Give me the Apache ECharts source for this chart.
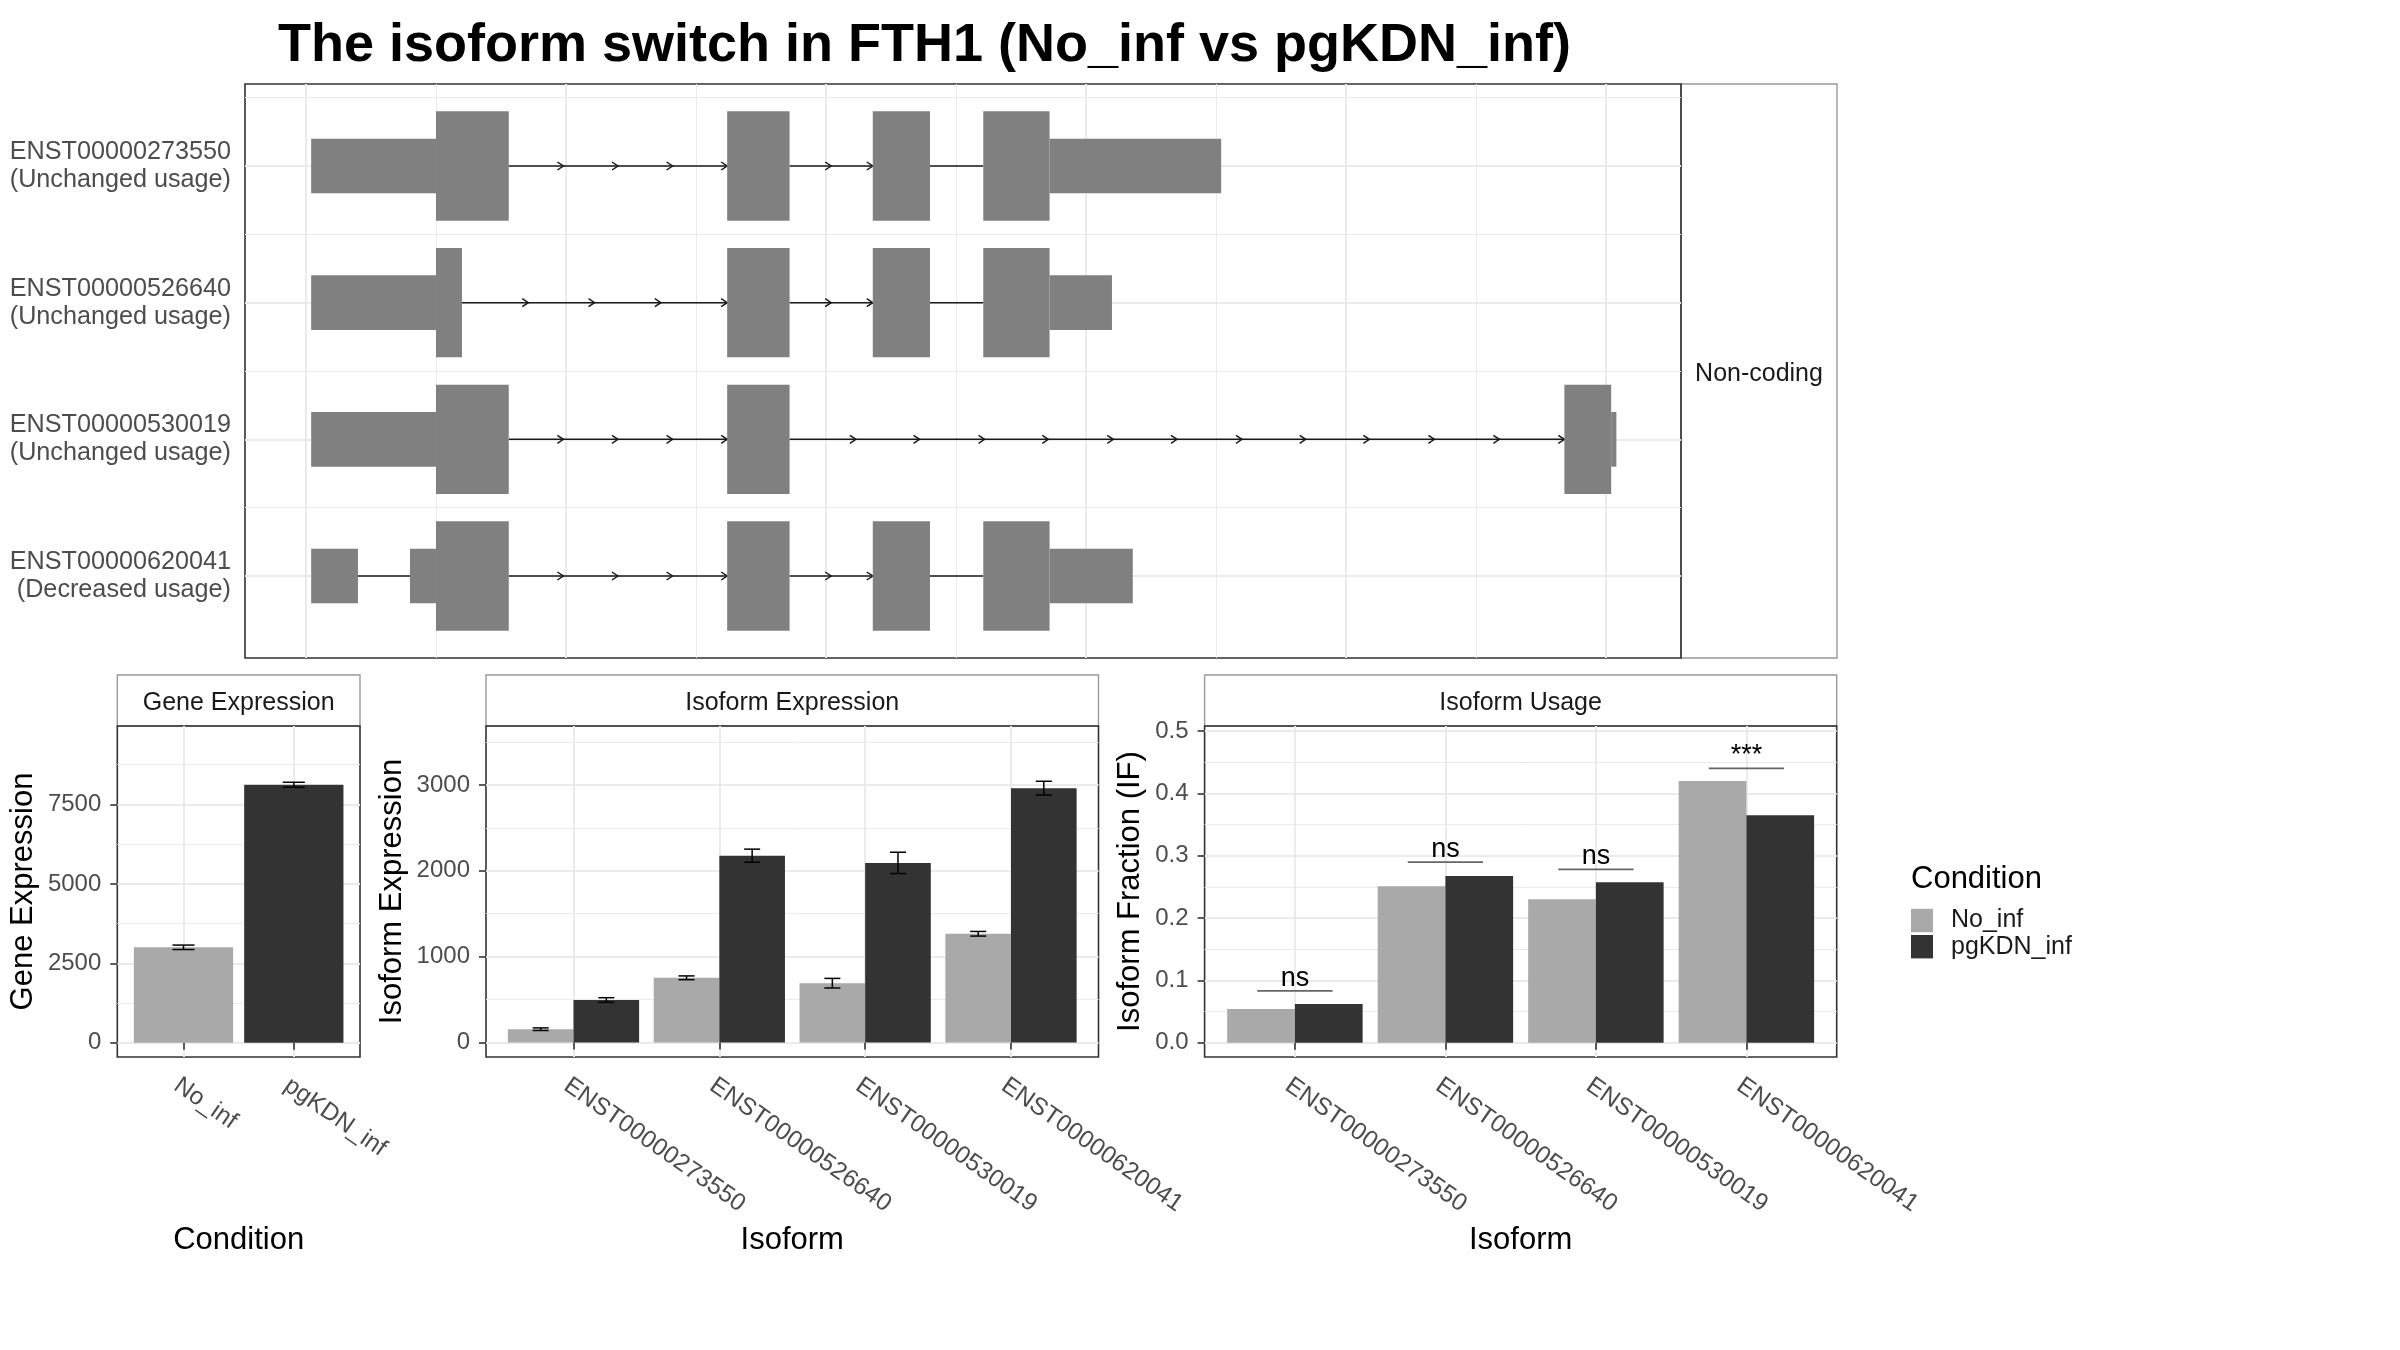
<!DOCTYPE html>
<html><head><meta charset="utf-8">
<script src="https://cdn.jsdelivr.net/npm/echarts@6/dist/echarts.min.js"></script>
<style>html,body{margin:0;padding:0;background:#fff}#c{width:2400px;height:1350px}</style>
</head><body><div id="c"></div>
<script>
// ---------------- DATA ----------------
const chartTitle = 'The isoform switch in FTH1 (No_inf vs pgKDN_inf)';
const transcriptIds = ['ENST00000273550', 'ENST00000526640', 'ENST00000530019', 'ENST00000620041'];
const transcriptUsage = ['Unchanged usage', 'Unchanged usage', 'Unchanged usage', 'Decreased usage'];
const codingStrip = 'Non-coding';
// exon pieces: [row, start, end, thick(1 = CDS) / thin(0 = UTR)]
const exons = [
  [1, 4, 100, 0], [1, 100, 156, 1], [1, 324, 372, 1], [1, 436, 480, 1], [1, 521, 572, 1], [1, 572, 704, 0],
  [2, 4, 100, 0], [2, 100, 120, 1], [2, 324, 372, 1], [2, 436, 480, 1], [2, 521, 572, 1], [2, 572, 620, 0],
  [3, 4, 100, 0], [3, 100, 156, 1], [3, 324, 372, 1], [3, 968, 1004, 1], [3, 1004, 1008, 0],
  [4, 4, 40, 0], [4, 80, 100, 0], [4, 100, 156, 1], [4, 324, 372, 1], [4, 436, 480, 1], [4, 521, 572, 1], [4, 572, 636, 0]
];
// introns: [row, start, end]
const introns = [
  [1, 156, 324], [1, 372, 436], [1, 480, 521],
  [2, 120, 324], [2, 372, 436], [2, 480, 521],
  [3, 156, 324], [3, 372, 968],
  [4, 40, 80], [4, 156, 324], [4, 372, 436], [4, 480, 521]
];
// intron direction arrows: [row, tip position]
const arrowTips = [
  [1, 198], [1, 240], [1, 282], [1, 324], [1, 404], [1, 436],
  [2, 171], [2, 222], [2, 273], [2, 324], [2, 404], [2, 436],
  [3, 198], [3, 240], [3, 282], [3, 324], [3, 423], [3, 472], [3, 522], [3, 571], [3, 621], [3, 670],
  [3, 720], [3, 769], [3, 818], [3, 868], [3, 918], [3, 968],
  [4, 198], [4, 240], [4, 282], [4, 324], [4, 404], [4, 436]
];
const structMajor = [0, 200, 400, 600, 800, 1000];
const structMinor = [100, 300, 500, 700, 900];
const rowTicks = [1, 2, 3, 4];
const rowMinor = [0.5, 1.5, 2.5, 3.5];

const conditions = ['No_inf', 'pgKDN_inf'];
const geneMean = [3005, 8120];
const geneSE = [70, 78];
const geneTicks = [0, 2500, 5000, 7500];
const geneMinor = [1250, 3750, 6250, 8750];

const isoforms = ['ENST00000273550', 'ENST00000526640', 'ENST00000530019', 'ENST00000620041'];
const isoExpNo = [154, 753, 690, 1266];
const isoExpNoSE = [15, 22, 56, 27];
const isoExpKd = [494, 2176, 2092, 2963];
const isoExpKdSE = [27, 76, 124, 80];
const isoExpTicks = [0, 1000, 2000, 3000];
const isoExpMinor = [500, 1500, 2500, 3500];

const ifNo = [0.054, 0.251, 0.230, 0.420];
const ifKd = [0.062, 0.2675, 0.2575, 0.365];
const sigY = [0.0833, 0.2896, 0.278, 0.44];
const sigLabel = ['ns', 'ns', 'ns', '***'];
const usageTicks = [0, 0.1, 0.2, 0.3, 0.4, 0.5];
const usageMinor = [0.05, 0.15, 0.25, 0.35, 0.45];

// ---------------- STYLE ----------------
const FONT = '"Liberation Sans", Arial, Helvetica, sans-serif';
const COL_NO = '#A9A9A9', COL_KD = '#333333', COL_EXON = '#808080';
const GRIDC = '#EBEBEB', TICKC = '#333333', LABC = '#4D4D4D';

const G = {
  top:   {left: 245, top: 84, width: 1436, height: 574},
  gene:  {left: 117.3, top: 726, width: 242.7, height: 331},
  iso:   {left: 486, top: 726, width: 612.5, height: 331},
  usage: {left: 1204.6, top: 726, width: 632.1, height: 331}
};
const grids = [G.top, G.gene, G.iso, G.usage].map(g => Object.assign({
  show: true, borderColor: '#333333', borderWidth: 1.6, backgroundColor: 'transparent',
  containLabel: false, outerBoundsMode: 'none'
}, g));

function hiddenAxis(gridIndex, min, max, vals, width, extra) {
  return Object.assign({
    type: 'value', gridIndex, min, max, show: true,
    axisLine: {show: false}, axisTick: {show: false, customValues: vals},
    axisLabel: {show: false, customValues: vals},
    splitLine: {show: true, lineStyle: {color: GRIDC, width}}
  }, extra || {});
}
function catXAxis(gridIndex, max, names, title) {
  const vals = names.map((_, i) => i + 1);
  return {
    type: 'value', gridIndex, min: 0.4, max,
    axisLine: {show: false},
    axisTick: {show: true, length: 7, customValues: vals, lineStyle: {color: TICKC, width: 1.6}},
    axisLabel: {show: true, customValues: vals, formatter: v => names[Math.round(v) - 1],
      rotate: -35, align: 'left', verticalAlign: 'top', margin: 16,
      fontSize: 24.5, color: LABC, fontFamily: FONT},
    splitLine: {show: true, lineStyle: {color: GRIDC, width: 2}},
    name: title, nameLocation: 'middle', nameGap: 168, nameMoveOverlap: false,
    nameTextStyle: {fontSize: 31, color: '#000', fontFamily: FONT, verticalAlign: 'top'}
  };
}
function valYAxis(gridIndex, min, max, ticks, fmt, title, gap) {
  return {
    type: 'value', gridIndex, min, max,
    axisLine: {show: false},
    axisTick: {show: true, length: 7, customValues: ticks, lineStyle: {color: TICKC, width: 1.6}},
    axisLabel: {show: true, customValues: ticks, formatter: fmt, margin: 16,
      fontSize: 24, color: LABC, fontFamily: FONT},
    splitLine: {show: true, lineStyle: {color: GRIDC, width: 2}},
    name: title, nameLocation: 'middle', nameGap: gap, nameMoveOverlap: false,
    nameTextStyle: {fontSize: 31, color: '#000', fontFamily: FONT}
  };
}

const xAxes = [
  hiddenAxis(0, -46.9, 1057.7, structMajor, 2),
  hiddenAxis(0, -46.9, 1057.7, structMinor, 1),
  catXAxis(1, 2.6, conditions, 'Condition'),
  catXAxis(2, 4.6, isoforms, 'Isoform'),
  catXAxis(3, 4.6, isoforms, 'Isoform')
];
const yAxes = [
  {
    type: 'value', gridIndex: 0, min: 0.4, max: 4.6, inverse: true,
    axisLine: {show: false}, axisTick: {show: false, customValues: rowTicks},
    axisLabel: {show: true, customValues: rowTicks, margin: 14, align: 'right',
      formatter: v => transcriptIds[Math.round(v) - 1] + '\n(' + transcriptUsage[Math.round(v) - 1] + ')',
      fontSize: 25.2, lineHeight: 28, color: LABC, fontFamily: FONT, padding: [9, 0, 0, 0]},
    splitLine: {show: true, lineStyle: {color: GRIDC, width: 2}}
  },
  hiddenAxis(0, 0.4, 4.6, rowMinor, 1, {inverse: true}),
  valYAxis(1, -447, 9969, geneTicks, v => String(Math.round(v)), 'Gene Expression', 78),
  hiddenAxis(1, -447, 9969, geneMinor, 1),
  valYAxis(2, -170, 3687, isoExpTicks, v => String(Math.round(v)), 'Isoform Expression', 78),
  hiddenAxis(2, -170, 3687, isoExpMinor, 1),
  valYAxis(3, -0.0228, 0.508, usageTicks, v => v.toFixed(1), 'Isoform Fraction (IF)', 59),
  hiddenAxis(3, -0.0228, 0.508, usageMinor, 1)
];

// ---------------- RENDERERS ----------------
function exonItem(params, api) {
  const row = api.value(0), s = api.value(1), e = api.value(2), thick = api.value(3);
  const h = thick ? 0.4 : 0.2;
  const a = api.coord([s, row - h]), b = api.coord([e, row + h]);
  return {type: 'rect', shape: {x: Math.min(a[0], b[0]), y: Math.min(a[1], b[1]),
    width: Math.abs(b[0] - a[0]), height: Math.abs(b[1] - a[1])}, style: {fill: COL_EXON}};
}
function intronItem(params, api) {
  const row = api.value(0);
  const a = api.coord([api.value(1), row]), b = api.coord([api.value(2), row]);
  return {type: 'line', shape: {x1: a[0], y1: a[1], x2: b[0], y2: b[1]},
    style: {stroke: '#1a1a1a', lineWidth: 1.5}};
}
function arrowItem(params, api) {
  const p = api.coord([api.value(1), api.value(0)]);
  return {type: 'polyline', shape: {points: [[p[0] - 6, p[1] - 4], [p[0], p[1]], [p[0] - 6, p[1] + 4]]},
    style: {stroke: '#1a1a1a', lineWidth: 1.5, fill: null}};
}
function barItem(offset, width) {
  return function (params, api) {
    const x = api.value(0), y = api.value(1);
    const a = api.coord([x + offset, y]), b = api.coord([x + offset + width, 0]);
    return {type: 'rect', shape: {x: a[0], y: a[1], width: b[0] - a[0], height: b[1] - a[1]},
      style: {fill: api.visual('color')}};
  };
}
function errItem(offset, cap) {
  return function (params, api) {
    const x = api.value(0) + offset, m = api.value(1), s = api.value(2);
    const t = api.coord([x, m + s]), b = api.coord([x, m - s]);
    const l = api.coord([x - cap, m])[0], r = api.coord([x + cap, m])[0];
    const st = {stroke: '#000', lineWidth: 1.5};
    return {type: 'group', children: [
      {type: 'line', shape: {x1: t[0], y1: t[1], x2: b[0], y2: b[1]}, style: st},
      {type: 'line', shape: {x1: l, y1: t[1], x2: r, y2: t[1]}, style: st},
      {type: 'line', shape: {x1: l, y1: b[1], x2: r, y2: b[1]}, style: st}
    ]};
  };
}
function sigItem(params, api) {
  const x = api.value(0), y = api.value(1);
  const a = api.coord([x - 0.25, y]), b = api.coord([x + 0.25, y]);
  return {type: 'group', children: [
    {type: 'line', shape: {x1: a[0], y1: a[1], x2: b[0], y2: b[1]}, style: {stroke: '#666666', lineWidth: 1.8}},
    {type: 'text', x: (a[0] + b[0]) / 2, y: a[1] + 1,
      style: {text: sigLabel[params.dataIndex], fontSize: 27, fontFamily: FONT, fill: '#000',
        align: 'center', verticalAlign: 'bottom'}}
  ]};
}

const series = [
  {type: 'custom', name: 'introns', xAxisIndex: 0, yAxisIndex: 0, renderItem: intronItem,
    data: introns, encode: {x: [1, 2], y: 0}, z: 3, silent: true},
  {type: 'custom', name: 'arrows', xAxisIndex: 0, yAxisIndex: 0, renderItem: arrowItem,
    data: arrowTips, encode: {x: 1, y: 0}, z: 3, silent: true},
  {type: 'custom', name: 'exons', xAxisIndex: 0, yAxisIndex: 0, renderItem: exonItem,
    data: exons, encode: {x: [1, 2], y: 0}, z: 4, silent: true},

  {type: 'custom', name: conditions[0], xAxisIndex: 2, yAxisIndex: 2, renderItem: barItem(-0.45, 0.9),
    itemStyle: {color: COL_NO}, data: [[1, geneMean[0]]], encode: {x: 0, y: 1}, z: 3, silent: true},
  {type: 'custom', name: conditions[1], xAxisIndex: 2, yAxisIndex: 2, renderItem: barItem(-0.45, 0.9),
    itemStyle: {color: COL_KD}, data: [[2, geneMean[1]]], encode: {x: 0, y: 1}, z: 3, silent: true},
  {type: 'custom', name: 'geneErr', xAxisIndex: 2, yAxisIndex: 2, renderItem: errItem(0, 0.1),
    data: conditions.map((_, i) => [i + 1, geneMean[i], geneSE[i]]), encode: {x: 0, y: 1}, z: 5, silent: true},

  {type: 'custom', name: conditions[0], xAxisIndex: 3, yAxisIndex: 4, renderItem: barItem(-0.45, 0.45),
    itemStyle: {color: COL_NO}, data: isoExpNo.map((v, i) => [i + 1, v]), encode: {x: 0, y: 1}, z: 3, silent: true},
  {type: 'custom', name: conditions[1], xAxisIndex: 3, yAxisIndex: 4, renderItem: barItem(0, 0.45),
    itemStyle: {color: COL_KD}, data: isoExpKd.map((v, i) => [i + 1, v]), encode: {x: 0, y: 1}, z: 3, silent: true},
  {type: 'custom', name: 'isoErrNo', xAxisIndex: 3, yAxisIndex: 4, renderItem: errItem(-0.225, 0.055),
    data: isoExpNo.map((v, i) => [i + 1, v, isoExpNoSE[i]]), encode: {x: 0, y: 1}, z: 5, silent: true},
  {type: 'custom', name: 'isoErrKd', xAxisIndex: 3, yAxisIndex: 4, renderItem: errItem(0.225, 0.055),
    data: isoExpKd.map((v, i) => [i + 1, v, isoExpKdSE[i]]), encode: {x: 0, y: 1}, z: 5, silent: true},

  {type: 'custom', name: conditions[0], xAxisIndex: 4, yAxisIndex: 6, renderItem: barItem(-0.45, 0.45),
    itemStyle: {color: COL_NO}, data: ifNo.map((v, i) => [i + 1, v]), encode: {x: 0, y: 1}, z: 3, silent: true},
  {type: 'custom', name: conditions[1], xAxisIndex: 4, yAxisIndex: 6, renderItem: barItem(0, 0.45),
    itemStyle: {color: COL_KD}, data: ifKd.map((v, i) => [i + 1, v]), encode: {x: 0, y: 1}, z: 3, silent: true},
  {type: 'custom', name: 'sig', xAxisIndex: 4, yAxisIndex: 6, renderItem: sigItem,
    data: sigY.map((v, i) => [i + 1, v]), encode: {x: 0, y: 1}, z: 5, silent: true}
];

function strip(x, y, w, h, text) {
  return [
    {type: 'rect', shape: {x, y, width: w, height: h}, z: -5,
      style: {fill: '#ffffff', stroke: '#999999', lineWidth: 1.4}},
    {type: 'text', x: x + w / 2, y: y + h / 2 + 3, z: 10,
      style: {text, fontSize: 25, fontFamily: FONT, fill: '#1A1A1A', align: 'center', verticalAlign: 'middle'}}
  ];
}

const option = {
  animation: false,
  backgroundColor: '#ffffff',
  textStyle: {fontFamily: FONT},
  title: [
    {text: chartTitle, left: 278, top: 19, padding: 0,
      textStyle: {fontSize: 54, fontWeight: 'bold', color: '#000', fontFamily: FONT}},
    {text: 'Condition', left: 1911, top: 864, padding: 0,
      textStyle: {fontSize: 31, fontWeight: 'normal', color: '#000', fontFamily: FONT}}
  ],
  legend: {
    data: conditions, orient: 'vertical', left: 1911, top: 908, padding: 0,
    itemWidth: 22, itemHeight: 23.4, itemGap: 1.2, icon: 'rect', selectedMode: false,
    textStyle: {fontSize: 25, color: '#1A1A1A', fontFamily: FONT, lineHeight: 23, padding: [2, 0, 0, 13]}
  },
  grid: grids,
  xAxis: xAxes,
  yAxis: yAxes,
  series,
  graphic: [].concat(
    strip(1681, 84, 156, 574, codingStrip),
    strip(G.gene.left, 675, G.gene.width, 51, 'Gene Expression'),
    strip(G.iso.left, 675, G.iso.width, 51, 'Isoform Expression'),
    strip(G.usage.left, 675, G.usage.width, 51, 'Isoform Usage')
  )
};

const chart = echarts.init(document.getElementById('c'), null, {renderer: 'canvas'});
chart.setOption(option);
</script></body></html>
